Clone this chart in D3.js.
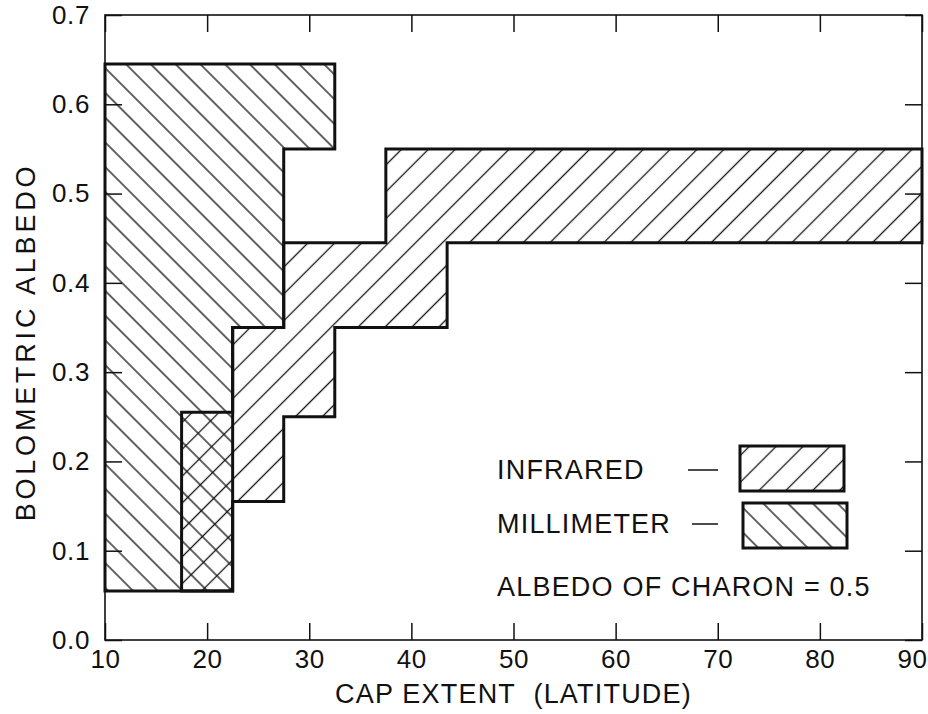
<!DOCTYPE html>
<html>
<head>
<meta charset="utf-8">
<script src="https://cdn.jsdelivr.net/npm/d3@7"></script>
<style>
  html, body { margin: 0; padding: 0; background: #fff; }
  svg { display: block; }
  text { font-family: "Liberation Sans", Arial, Helvetica, sans-serif; fill: #111; }
</style>
</head>
<body>
<svg id="chart" width="928" height="714"></svg>
<script>
// Cap extent (latitude) step breakpoints and albedo bounds per interval.
const infraredEdges = [17.5, 22.5, 27.5, 32.5, 37.5, 43.5, 90];
const infraredLow   = [0.055, 0.155, 0.25, 0.35, 0.35, 0.445];
const infraredHigh  = [0.255, 0.35, 0.445, 0.445, 0.55, 0.55];

const millimeterEdges = [10, 17.5, 22.5, 27.5, 32.5];
const millimeterLow   = [0.055, 0.055, 0.35, 0.55];
const millimeterHigh  = [0.645, 0.645, 0.645, 0.645];

const xTicks = [10, 20, 30, 40, 50, 60, 70, 80, 90];
const yTicks = [0.0, 0.1, 0.2, 0.3, 0.4, 0.5, 0.6, 0.7];

const legendLabels = ["INFRARED", "MILLIMETER"];
const noteText = "ALBEDO OF CHARON = 0.5";
const xTitle = "CAP EXTENT\u00a0\u00a0(LATITUDE)";
const yTitle = "BOLOMETRIC ALBEDO";

const svg = d3.select("#chart");
const plotLeft = 105, plotRight = 922, plotTop = 15, plotBottom = 640;
const labelFont = "27px", numberFont = "26px";

const x = d3.scaleLinear().domain([10, 90]).range([plotLeft, plotRight]);
const y = d3.scaleLinear().domain([0, 0.7]).range([plotBottom, plotTop]);

// Hatch patterns: "/" for infrared, "\" for millimeter.
const defs = svg.append("defs");
function hatch(id, angle, spacing) {
  const p = defs.append("pattern")
    .attr("id", id)
    .attr("patternUnits", "userSpaceOnUse")
    .attr("width", spacing).attr("height", spacing)
    .attr("patternTransform", `rotate(${angle})`);
  p.append("line")
    .attr("x1", spacing / 2).attr("y1", -1)
    .attr("x2", spacing / 2).attr("y2", spacing + 1)
    .attr("stroke", "#111").attr("stroke-width", 1.3);
}
hatch("hatch-ir", 45, 19);
hatch("hatch-mm", -45, 17.5);

// Outline of a stepped band: upper edge left-to-right, lower edge back.
function bandPoints(edges, low, high) {
  const pts = [];
  for (let i = 0; i < high.length; i++) {
    pts.push([x(edges[i]), y(high[i])], [x(edges[i + 1]), y(high[i])]);
  }
  for (let i = low.length - 1; i >= 0; i--) {
    pts.push([x(edges[i + 1]), y(low[i])], [x(edges[i]), y(low[i])]);
  }
  return pts;
}
const line = d3.line();

const mmPts = bandPoints(millimeterEdges, millimeterLow, millimeterHigh);
const irPts = bandPoints(infraredEdges, infraredLow, infraredHigh);

svg.append("path").attr("d", line(mmPts) + "Z").attr("fill", "url(#hatch-mm)");
svg.append("path").attr("d", line(irPts) + "Z").attr("fill", "url(#hatch-ir)");

// Frame with inward ticks on all four sides.
svg.append("rect")
  .attr("x", plotLeft).attr("y", plotTop)
  .attr("width", plotRight - plotLeft).attr("height", plotBottom - plotTop)
  .attr("fill", "none").attr("stroke", "#111").attr("stroke-width", 1.6);

const tickLen = 17;
const axisB = d3.axisBottom(x).tickValues(xTicks).tickSize(-tickLen).tickFormat(d => d).tickPadding(10);
const axisT = d3.axisTop(x).tickValues(xTicks).tickSize(-tickLen).tickFormat("");
const axisL = d3.axisLeft(y).tickValues(yTicks).tickSize(-tickLen).tickFormat(d3.format(".1f")).tickPadding(15);
const axisR = d3.axisRight(y).tickValues(yTicks).tickSize(-tickLen).tickFormat("");

function styleAxis(g) {
  g.select(".domain").remove();
  g.selectAll(".tick line").attr("stroke", "#111").attr("stroke-width", 1.5);
  g.selectAll(".tick text")
    .attr("fill", "#111")
    .style("font-family", '"Liberation Sans", Arial, sans-serif')
    .style("font-size", numberFont)
    .style("letter-spacing", "0.6px");
}
const gB = svg.append("g").attr("transform", `translate(0,${plotBottom})`).call(axisB).call(styleAxis);
// keep the last label inside the page edge
gB.selectAll(".tick text").filter(d => d === 90).attr("dx", -10);
svg.append("g").attr("transform", `translate(0,${plotTop})`).call(axisT).call(styleAxis);
svg.append("g").attr("transform", `translate(${plotLeft},0)`).call(axisL).call(styleAxis);
svg.append("g").attr("transform", `translate(${plotRight},0)`).call(axisR).call(styleAxis);

// Thick step outlines drawn over the hatching.
svg.append("path").attr("d", line(mmPts) + "Z")
  .attr("fill", "none").attr("stroke", "#111").attr("stroke-width", 3).attr("stroke-linejoin", "miter");
svg.append("path").attr("d", line(irPts) + "Z")
  .attr("fill", "none").attr("stroke", "#111").attr("stroke-width", 3).attr("stroke-linejoin", "miter");

// Axis titles.
svg.append("text")
  .attr("x", (plotLeft + plotRight) / 2).attr("y", 703)
  .attr("text-anchor", "middle")
  .style("font-size", labelFont).style("letter-spacing", "1.2px")
  .text(xTitle);
svg.append("text")
  .attr("transform", `translate(35,342) rotate(-90)`)
  .attr("text-anchor", "middle")
  .style("font-size", labelFont).style("letter-spacing", "3.8px")
  .text(yTitle);

// Legend.
const legend = svg.append("g");
const rows = [
  { label: legendLabels[0], fill: "url(#hatch-ir)", yText: 479, dash: [688, 718], box: [740, 446, 104, 45] },
  { label: legendLabels[1], fill: "url(#hatch-mm)", yText: 533, dash: [692, 718], box: [743, 503, 104, 45] }
];
rows.forEach(r => {
  legend.append("text").attr("x", 497).attr("y", r.yText)
    .style("font-size", labelFont).style("letter-spacing", "1.2px").text(r.label);
  legend.append("line")
    .attr("x1", r.dash[0]).attr("x2", r.dash[1])
    .attr("y1", r.yText - 9).attr("y2", r.yText - 9)
    .attr("stroke", "#111").attr("stroke-width", 1.5);
  legend.append("rect")
    .attr("x", r.box[0]).attr("y", r.box[1])
    .attr("width", r.box[2]).attr("height", r.box[3])
    .attr("fill", r.fill).attr("stroke", "#111").attr("stroke-width", 3);
});
legend.append("text").attr("x", 497).attr("y", 596)
  .style("font-size", labelFont).style("letter-spacing", "1.2px").text(noteText);
</script>
</body>
</html>
